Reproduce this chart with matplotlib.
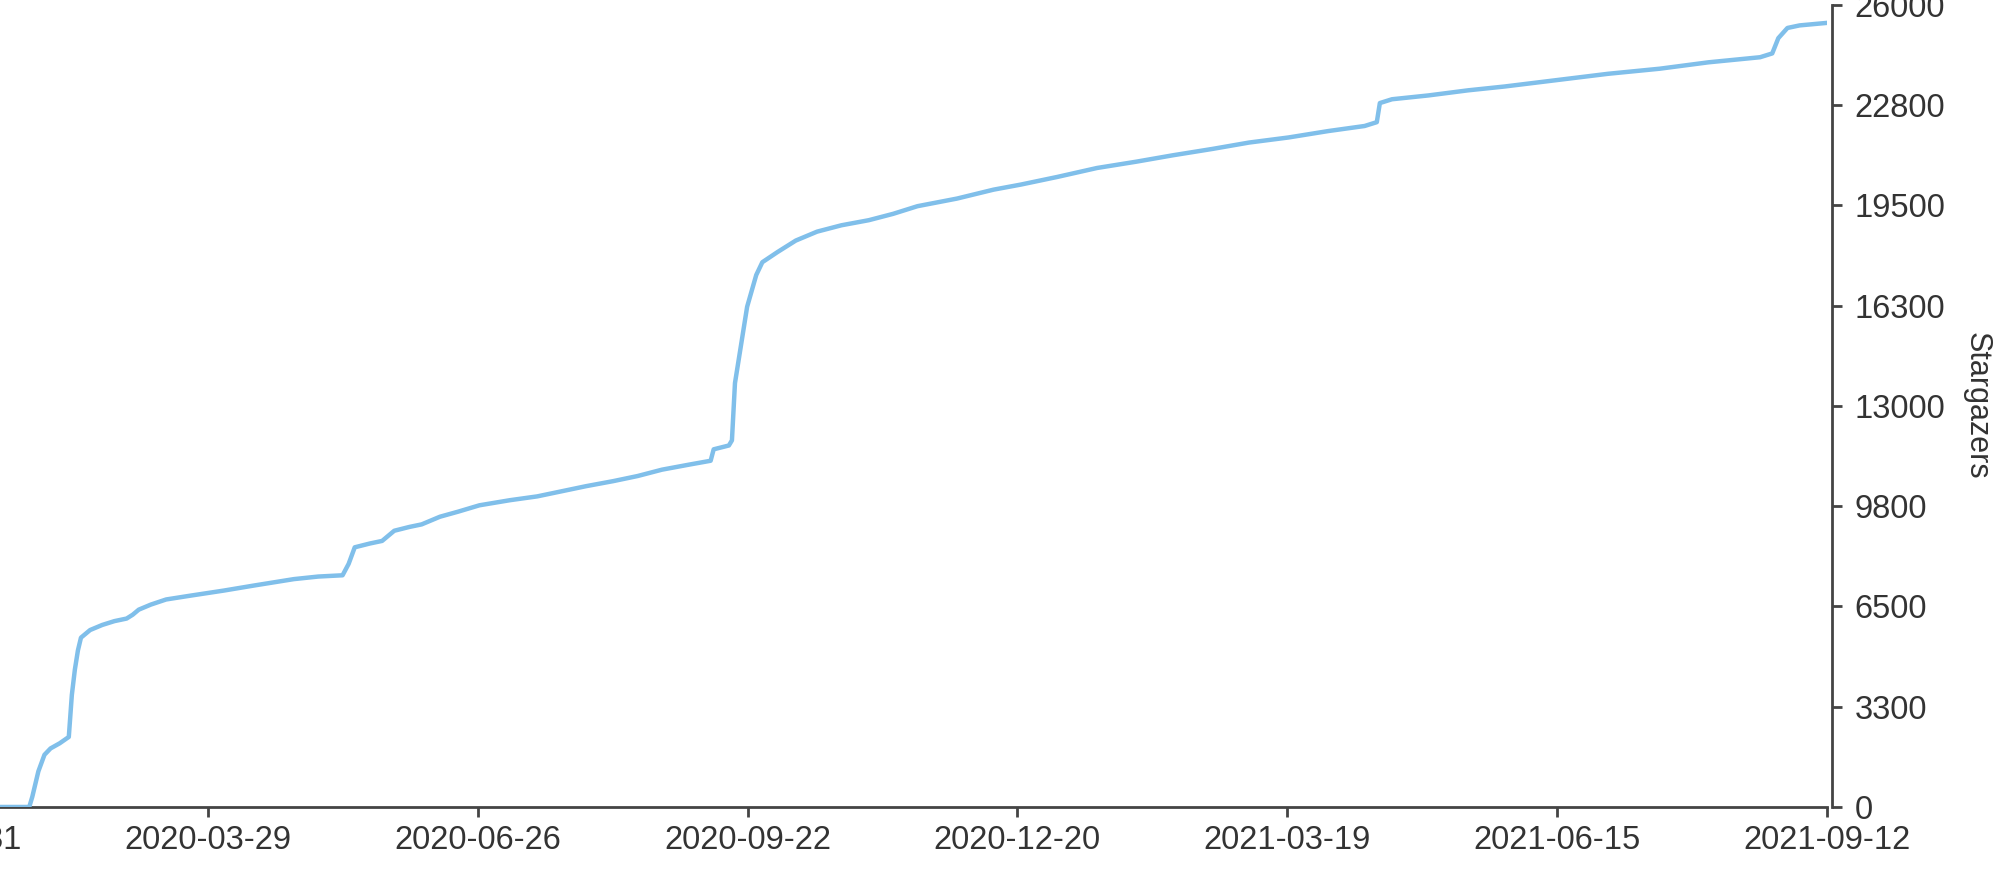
import matplotlib
matplotlib.use("Agg")
import matplotlib.pyplot as plt
import matplotlib.dates as mdates
import numpy as np

# star history (date, cumulative stargazers)
dates = [
    "2019-12-31", "2020-01-30", "2020-01-31", "2020-02-02", "2020-02-04",
    "2020-02-06", "2020-02-09", "2020-02-12", "2020-02-13", "2020-02-14",
    "2020-02-15", "2020-02-16", "2020-02-19", "2020-02-23", "2020-02-27",
    "2020-03-02", "2020-03-04", "2020-03-06", "2020-03-10", "2020-03-15",
    "2020-03-23", "2020-04-03", "2020-04-13", "2020-04-26", "2020-05-04",
    "2020-05-12", "2020-05-14", "2020-05-16", "2020-05-21", "2020-05-25",
    "2020-05-29", "2020-06-03", "2020-06-07", "2020-06-13", "2020-06-19",
    "2020-06-26", "2020-07-06", "2020-07-15", "2020-07-23", "2020-07-31",
    "2020-08-09", "2020-08-17", "2020-08-25", "2020-09-03", "2020-09-10",
    "2020-09-11", "2020-09-16", "2020-09-17", "2020-09-18", "2020-09-20",
    "2020-09-22", "2020-09-25", "2020-09-27", "2020-10-02", "2020-10-08",
    "2020-10-15", "2020-10-23", "2020-11-01", "2020-11-09", "2020-11-17",
    "2020-11-30", "2020-12-12", "2020-12-21", "2021-01-02", "2021-01-15",
    "2021-01-28", "2021-02-09", "2021-02-22", "2021-03-06", "2021-03-19",
    "2021-04-01", "2021-04-13", "2021-04-17", "2021-04-18", "2021-04-22",
    "2021-05-04", "2021-05-17", "2021-05-29", "2021-06-15", "2021-07-02",
    "2021-07-19", "2021-08-04", "2021-08-21", "2021-08-25", "2021-08-27",
    "2021-08-30", "2021-09-03", "2021-09-12",
]
stars = [
    0, 0, 330, 1156, 1692,
    1898, 2064, 2270, 3632, 4458,
    5076, 5489, 5736, 5901, 6025,
    6108, 6232, 6397, 6562, 6727,
    6851, 7016, 7181, 7387, 7470,
    7511, 7882, 8418, 8542, 8625,
    8955, 9079, 9161, 9409, 9574,
    9780, 9945, 10069, 10234, 10399,
    10564, 10729, 10935, 11100, 11224,
    11595, 11719, 11884, 13741, 14979,
    16217, 17248, 17661, 17991, 18363,
    18652, 18858, 19023, 19229, 19477,
    19724, 20013, 20178, 20426, 20715,
    20921, 21128, 21334, 21540, 21705,
    21912, 22077, 22201, 22820, 22944,
    23068, 23233, 23357, 23563, 23769,
    23934, 24141, 24306, 24430, 24925,
    25255, 25338, 25420,
]

x_tick_labels = ["2019-12-31", "2020-03-29", "2020-06-26", "2020-09-22",
                 "2020-12-20", "2021-03-19", "2021-06-15", "2021-09-12"]
y_tick_values = [0, 3250, 6500, 9750, 13000, 16250, 19500, 22750, 26000]
y_tick_labels = ["0", "3300", "6500", "9800", "13000", "16300", "19500", "22800", "26000"]

plt.rcParams["font.family"] = ["Liberation Sans", "DejaVu Sans"]
axis_color = "#444444"
text_color = "#333333"

fig = plt.figure(figsize=(20, 8.74), dpi=100)
# the reference is cropped: the axes start left of the image edge
ax = fig.add_axes([-0.031, 0.0767, 0.9445, 0.9176])

x = mdates.datestr2num(dates)
ax.plot(x, stars, color="#80bfea", lw=3.2, solid_joinstyle="round", zorder=3)

x0 = mdates.datestr2num(x_tick_labels[0])
x1 = mdates.datestr2num(x_tick_labels[-1])
ax.set_xlim(x0, x1)
ax.set_ylim(0, 26000)

ax.set_xticks(np.linspace(x0, x1, len(x_tick_labels)))
ax.set_xticklabels(x_tick_labels)
ax.yaxis.tick_right()
ax.set_yticks(y_tick_values)
ax.set_yticklabels(y_tick_labels)

for side in ["top", "left"]:
    ax.spines[side].set_visible(False)
for side in ["bottom", "right"]:
    ax.spines[side].set_color(axis_color)
    ax.spines[side].set_linewidth(2.0)
ax.spines["right"].set_position(("outward", 3.6))

ax.tick_params(axis="both", direction="out", length=7.2, width=2.0,
               color=axis_color, labelcolor=text_color, labelsize=23.5)
ax.tick_params(axis="x", pad=6)
ax.tick_params(axis="y", pad=9)

ax.yaxis.set_label_position("right")
ax.set_ylabel("Stargazers", fontsize=22, color=text_color, rotation=270,
              va="center", ha="center")
ax.yaxis.set_label_coords(1.079, 0.5)

fig.savefig("out.png", dpi=100)
